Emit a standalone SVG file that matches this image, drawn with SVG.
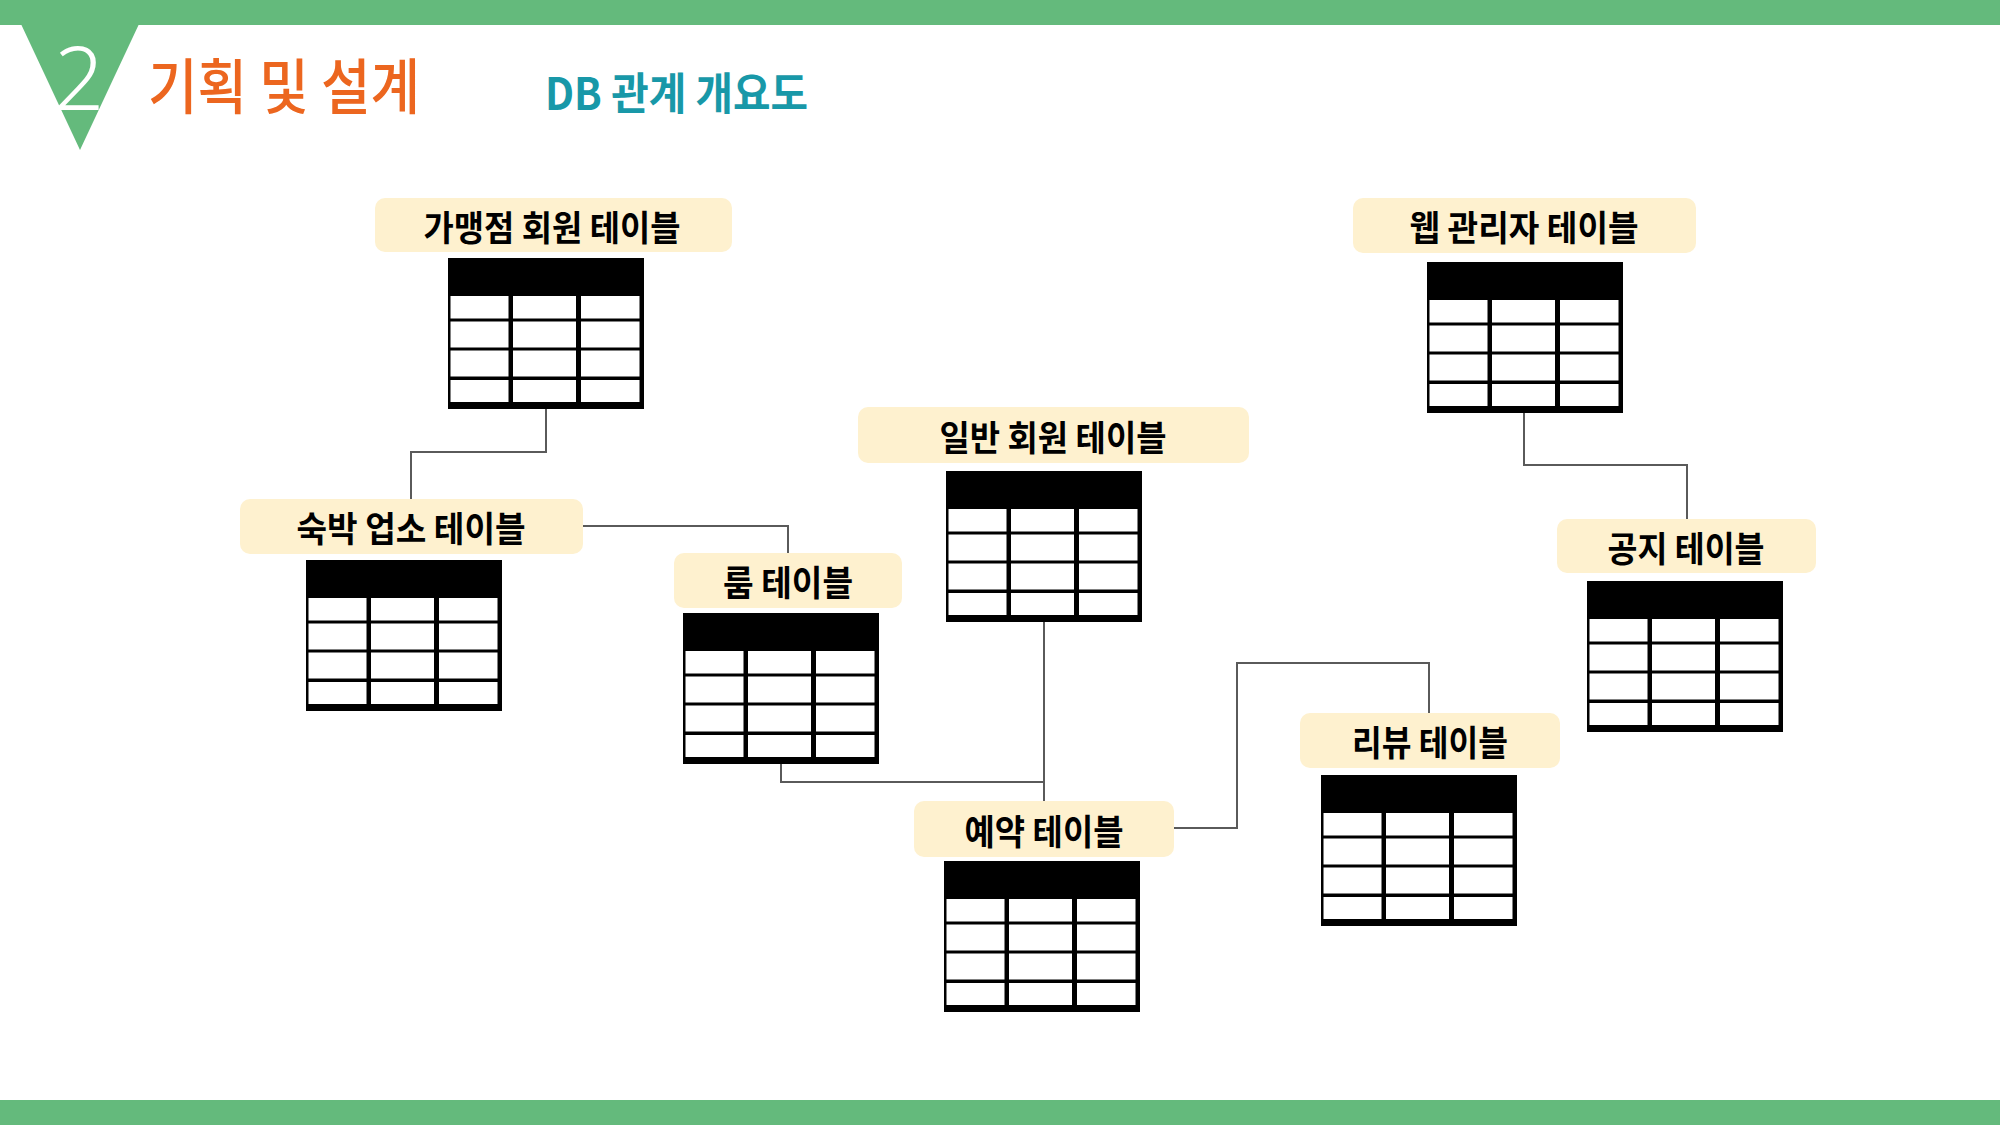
<svg xmlns="http://www.w3.org/2000/svg" xmlns:xlink="http://www.w3.org/1999/xlink" width="2000" height="1125" viewBox="0 0 2000 1125">
<style>
.bar{fill:#64ba7c}
.lbl{fill:#fef1cf}
.lt{font-family:"Noto Sans CJK KR","Noto Sans",sans-serif;font-weight:700;font-size:35px;fill:#000;text-anchor:middle}
.con{fill:none;stroke:#5a5a5a;stroke-width:2}
.cell{fill:#fff}
</style>
<defs>
<g id="tbl">
<rect x="0" y="0" width="196" height="151" fill="#000"/>
<rect class="cell" x="2.5" y="38" width="58" height="22.5"/>
<rect class="cell" x="65" y="38" width="63" height="22.5"/>
<rect class="cell" x="133" y="38" width="58.5" height="22.5"/>
<rect class="cell" x="2.5" y="63.5" width="58" height="26"/>
<rect class="cell" x="65" y="63.5" width="63" height="26"/>
<rect class="cell" x="133" y="63.5" width="58.5" height="26"/>
<rect class="cell" x="2.5" y="92.5" width="58" height="26"/>
<rect class="cell" x="65" y="92.5" width="63" height="26"/>
<rect class="cell" x="133" y="92.5" width="58.5" height="26"/>
<rect class="cell" x="2.5" y="122" width="58" height="22"/>
<rect class="cell" x="65" y="122" width="63" height="22"/>
<rect class="cell" x="133" y="122" width="58.5" height="22"/>
</g>
</defs>
<rect x="0" y="0" width="2000" height="1125" fill="#fff"/>
<g id="header">
<rect class="bar" x="0" y="0" width="2000" height="25"/>
<rect class="bar" x="0" y="1100" width="2000" height="25"/>
<polygon points="21,24 139,24 80,150" fill="#64ba7c"/>
<text x="79" y="110" font-family="Noto Sans, Liberation Sans, sans-serif" font-weight="300" font-size="88" fill="#fff" text-anchor="middle">2</text>
<text x="148" y="109" font-family="Noto Sans CJK KR, sans-serif" font-weight="500" font-size="60" fill="#ec661f" textLength="272" lengthAdjust="spacingAndGlyphs">기획 및 설계</text>
<text x="545" y="110" font-family="Noto Sans CJK KR, sans-serif" font-weight="700" font-size="44" fill="#1898a8" textLength="263" lengthAdjust="spacingAndGlyphs">DB 관계 개요도</text>
</g>
<g id="connectors">
<path class="con" d="M546,409 V452 H411 V499"/>
<path class="con" d="M583,526 H788 V553"/>
<path class="con" d="M781,763 V782 H1044"/>
<path class="con" d="M1044,622 V801"/>
<path class="con" d="M1174,828 H1237 V663 H1429 V713"/>
<path class="con" d="M1524,413 V465 H1687 V519"/>
</g>
<g id="node-franchise">
<rect class="lbl" x="375" y="198" width="357" height="54" rx="10"/>
<text class="lt" x="552" y="241" textLength="257" lengthAdjust="spacingAndGlyphs">가맹점 회원 테이블</text>
<use xlink:href="#tbl" x="448" y="258"/>
</g>
<g id="node-lodging">
<rect class="lbl" x="240" y="499" width="343" height="55" rx="10"/>
<text class="lt" x="411" y="542" textLength="229" lengthAdjust="spacingAndGlyphs">숙박 업소 테이블</text>
<use xlink:href="#tbl" x="306" y="560"/>
</g>
<g id="node-room">
<rect class="lbl" x="674" y="553" width="228" height="55" rx="10"/>
<text class="lt" x="788" y="596" textLength="130" lengthAdjust="spacingAndGlyphs">룸 테이블</text>
<use xlink:href="#tbl" x="683" y="613"/>
</g>
<g id="node-member">
<rect class="lbl" x="858" y="407" width="391" height="56" rx="10"/>
<text class="lt" x="1053" y="451" textLength="227" lengthAdjust="spacingAndGlyphs">일반 회원 테이블</text>
<use xlink:href="#tbl" x="946" y="471"/>
</g>
<g id="node-reservation">
<rect class="lbl" x="914" y="801" width="260" height="56" rx="10"/>
<text class="lt" x="1044" y="845" textLength="159" lengthAdjust="spacingAndGlyphs">예약 테이블</text>
<use xlink:href="#tbl" x="944" y="861"/>
</g>
<g id="node-review">
<rect class="lbl" x="1300" y="713" width="260" height="55" rx="10"/>
<text class="lt" x="1430" y="756" textLength="156" lengthAdjust="spacingAndGlyphs">리뷰 테이블</text>
<use xlink:href="#tbl" x="1321" y="775"/>
</g>
<g id="node-admin">
<rect class="lbl" x="1353" y="198" width="343" height="55" rx="10"/>
<text class="lt" x="1524" y="241" textLength="229" lengthAdjust="spacingAndGlyphs">웹 관리자 테이블</text>
<use xlink:href="#tbl" x="1427" y="262"/>
</g>
<g id="node-notice">
<rect class="lbl" x="1557" y="519" width="259" height="54" rx="10"/>
<text class="lt" x="1686" y="562" textLength="157" lengthAdjust="spacingAndGlyphs">공지 테이블</text>
<use xlink:href="#tbl" x="1587" y="581"/>
</g>
</svg>
